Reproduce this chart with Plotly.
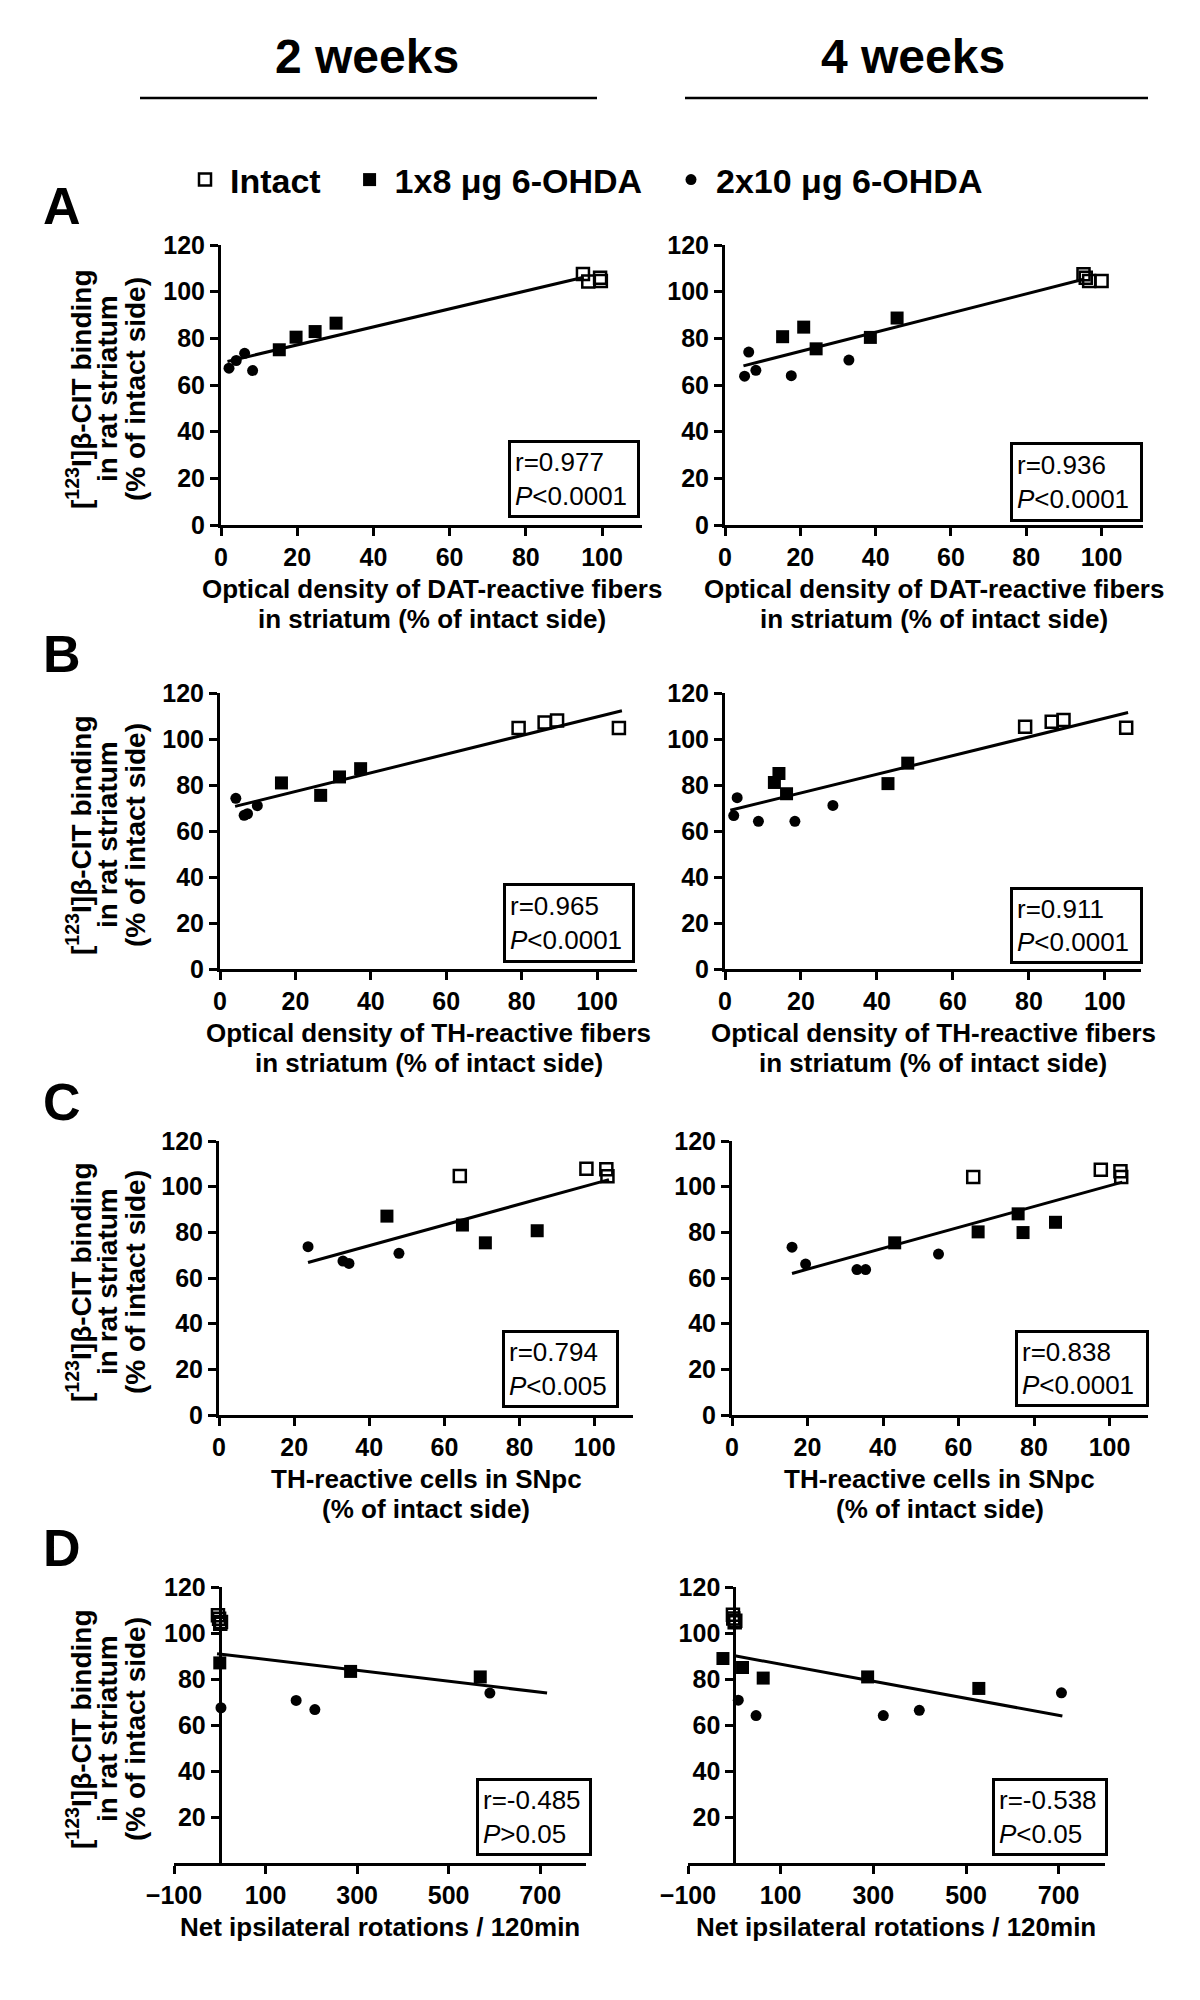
import plotly.graph_objects as go

W, H = 1200, 2000
OFF = 8  # the page body adds an 8px margin; compensate so the figure lands where intended
FONT = "Liberation Sans"

# ---------------- data ----------------
series_names = ["Intact", "1x8 μg 6-OHDA", "2x10 μg 6-OHDA"]

# A, 2 weeks : DAT fibers
a2_intact_x = [95.0, 96.4, 99.7, 99.5]
a2_intact_y = [107.6, 104.4, 104.6, 106.0]
a2_one8_x = [15.3, 19.7, 24.7, 30.2]
a2_one8_y = [75.1, 80.5, 82.9, 86.5]
a2_two10_x = [2.1, 4.0, 6.2, 8.3]
a2_two10_y = [67.2, 70.5, 73.6, 66.2]
a2_fit_x = [1.7, 95.2]
a2_fit_y = [70.1, 106.2]

# A, 4 weeks
a4_intact_x = [95.2, 96.7, 100.0, 95.8]
a4_intact_y = [107.5, 104.6, 104.6, 106.0]
a4_one8_x = [15.3, 20.9, 24.2, 38.6, 45.7]
a4_one8_y = [80.7, 84.8, 75.5, 80.4, 88.7]
a4_two10_x = [5.2, 6.3, 8.2, 17.6, 32.9]
a4_two10_y = [63.8, 74.1, 66.3, 64.0, 70.7]
a4_fit_x = [4.9, 95.2]
a4_fit_y = [68.2, 105.3]

# B, 2 weeks : TH fibers
b2_intact_x = [79.2, 86.1, 89.4, 105.8]
b2_intact_y = [104.8, 107.2, 108.0, 104.8]
b2_one8_x = [16.3, 26.7, 31.7, 37.3]
b2_one8_y = [80.9, 75.5, 83.5, 87.1]
b2_two10_x = [4.2, 6.4, 7.3, 9.9]
b2_two10_y = [74.2, 66.8, 67.5, 71.0]
b2_fit_x = [4.0, 106.6]
b2_fit_y = [70.7, 112.3]

# B, 4 weeks
b4_intact_x = [79.0, 86.0, 89.1, 105.6]
b4_intact_y = [105.3, 107.5, 108.3, 104.9]
b4_one8_x = [13.0, 14.2, 16.2, 42.9, 48.1]
b4_one8_y = [81.1, 85.0, 76.2, 80.6, 89.5]
b4_two10_x = [2.3, 3.2, 8.8, 18.4, 28.4]
b4_two10_y = [66.7, 74.5, 64.2, 64.2, 71.1]
b4_fit_x = [1.4, 106.1]
b4_fit_y = [69.0, 111.5]

# C, 2 weeks : TH cells in SNpc
c2_intact_x = [64.1, 97.8, 103.1, 103.4]
c2_intact_y = [104.7, 107.9, 107.6, 104.6]
c2_one8_x = [44.7, 64.8, 70.9, 84.7]
c2_one8_y = [87.1, 83.2, 75.4, 80.7]
c2_two10_x = [23.7, 33.0, 34.6, 47.9]
c2_two10_y = [73.7, 67.4, 66.4, 70.8]
c2_fit_x = [23.7, 103.8]
c2_fit_y = [66.8, 103.1]

# C, 4 weeks
c4_intact_x = [63.9, 97.7, 102.9, 103.1]
c4_intact_y = [104.2, 107.4, 106.8, 104.2]
c4_one8_x = [43.1, 65.2, 75.8, 77.1, 85.7]
c4_one8_y = [75.4, 80.2, 88.1, 79.9, 84.4]
c4_two10_x = [15.9, 19.5, 33.1, 35.4, 54.7]
c4_two10_y = [73.5, 66.1, 63.7, 63.7, 70.5]
c4_fit_x = [15.9, 103.4]
c4_fit_y = [62.0, 102.0]

# D, 2 weeks : rotations
d2_intact_x = [-4.0, -1.5, 2.6, 1.0]
d2_intact_y = [107.7, 106.2, 104.8, 104.0]
d2_one8_x = [0.0, 285.8, 569.0]
d2_one8_y = [87.0, 83.3, 80.9]
d2_two10_x = [2.6, 166.8, 207.7, 590.0]
d2_two10_y = [67.5, 70.7, 66.7, 73.9]
d2_fit_x = [-6.0, 715.0]
d2_fit_y = [91.0, 73.9]

# D, 4 weeks
d4_intact_x = [-3.0, -2.3, 0.8, 2.0]
d4_intact_y = [107.9, 106.3, 104.7, 105.3]
d4_one8_x = [-24.6, 17.7, 62.3, 287.7, 527.7]
d4_one8_y = [88.9, 85.0, 80.4, 80.9, 75.9]
d4_two10_x = [8.5, 46.9, 321.5, 399.2, 706.0]
d4_two10_y = [70.8, 64.1, 64.1, 66.4, 74.0]
d4_fit_x = [0.8, 708.0]
d4_fit_y = [90.1, 63.9]

r_texts = ["r=0.977", "r=0.936", "r=0.965", "r=0.911",
           "r=0.794", "r=0.838", "r=-0.485", "r=-0.538"]
p_texts = ["&lt;0.0001", "&lt;0.0001", "&lt;0.0001", "&lt;0.0001",
           "&lt;0.005", "&lt;0.0001", "&gt;0.05", "&lt;0.05"]

xtitles = [
    ["Optical density of DAT-reactive fibers", "in striatum (% of intact side)"],
    ["Optical density of TH-reactive fibers", "in striatum (% of intact side)"],
    ["TH-reactive cells in SNpc", "(% of intact side)"],
    ["Net ipsilateral rotations / 120min"],
]
ytitle_lines = ["[<sup>123</sup>I]β-CIT binding", "in rat striatum", "(% of intact side)"]
row_letters = ["A", "B", "C", "D"]
col_titles = ["2 weeks", "4 weeks"]

ticks_pct = [0, 20, 40, 60, 80, 100]
ticks_y = [0, 20, 40, 60, 80, 100, 120]
ticks_rot = [-100, 100, 300, 500, 700]
ticks_y_rot = [20, 40, 60, 80, 100, 120]

data = [
    (a2_intact_x, a2_intact_y, a2_one8_x, a2_one8_y, a2_two10_x, a2_two10_y, a2_fit_x, a2_fit_y),
    (a4_intact_x, a4_intact_y, a4_one8_x, a4_one8_y, a4_two10_x, a4_two10_y, a4_fit_x, a4_fit_y),
    (b2_intact_x, b2_intact_y, b2_one8_x, b2_one8_y, b2_two10_x, b2_two10_y, b2_fit_x, b2_fit_y),
    (b4_intact_x, b4_intact_y, b4_one8_x, b4_one8_y, b4_two10_x, b4_two10_y, b4_fit_x, b4_fit_y),
    (c2_intact_x, c2_intact_y, c2_one8_x, c2_one8_y, c2_two10_x, c2_two10_y, c2_fit_x, c2_fit_y),
    (c4_intact_x, c4_intact_y, c4_one8_x, c4_one8_y, c4_two10_x, c4_two10_y, c4_fit_x, c4_fit_y),
    (d2_intact_x, d2_intact_y, d2_one8_x, d2_one8_y, d2_two10_x, d2_two10_y, d2_fit_x, d2_fit_y),
    (d4_intact_x, d4_intact_y, d4_one8_x, d4_one8_y, d4_two10_x, d4_two10_y, d4_fit_x, d4_fit_y),
]

# ---------------- layout geometry (pixels in the final picture) ----------------
geom = [
    dict(x0=221, x1=642, top=245, bot=525, xr=[0, 110.5]),
    dict(x0=725, x1=1143, top=245, bot=525, xr=[0, 111.0]),
    dict(x0=220, x1=637, top=693, bot=969, xr=[0, 110.6]),
    dict(x0=725, x1=1141, top=693, bot=969, xr=[0, 109.5]),
    dict(x0=219, x1=633, top=1141, bot=1415, xr=[0, 110.2]),
    dict(x0=732, x1=1148, top=1141, bot=1415, xr=[0, 110.2]),
    dict(x0=174, x1=586, top=1587, bot=1863, xr=[-100, 800]),
    dict(x0=688, x1=1105, top=1587, bot=1863, xr=[-100, 800]),
]
boxes = [
    (508, 440, 640, 518), (1010, 442, 1143, 522),
    (503, 883, 635, 963), (1010, 887, 1143, 964),
    (502, 1330, 619, 1408), (1015, 1330, 1149, 1407),
    (476, 1778, 592, 1856), (992, 1778, 1108, 1856),
]


def fx(p):
    return (p - OFF) / W


def fy(p):
    return 1 - (p - OFF) / H


fig = go.Figure()
layout = dict(
    width=W, height=H, margin=dict(l=0, r=0, t=0, b=0, autoexpand=False),
    paper_bgcolor="white", plot_bgcolor="white",
    font=dict(family=FONT, color="black"),
    showlegend=True,
)

axis_common = dict(
    showline=True, linecolor="black", linewidth=3,
    ticks="outside", ticklen=8, tickwidth=3, tickcolor="black",
    showgrid=False, zeroline=False, automargin=False,
    tickfont=dict(family=FONT, size=25, color="black", weight="bold"),
)

annotations = []
shapes = []

for i, (g, d) in enumerate(zip(geom, data)):
    n = i + 1
    xa = "x" if n == 1 else f"x{n}"
    ya = "y" if n == 1 else f"y{n}"
    is_rot = i >= 6
    xaxis = dict(axis_common, domain=[fx(g["x0"]), fx(g["x1"])], range=g["xr"],
                 anchor=ya,
                 tickvals=ticks_rot if is_rot else ticks_pct)
    yaxis = dict(axis_common, domain=[fy(g["bot"]), fy(g["top"])], range=[0, 120],
                 tickvals=ticks_y_rot if is_rot else ticks_y)
    if is_rot:
        zero_px = g["x0"] + (0 - g["xr"][0]) / (g["xr"][1] - g["xr"][0]) * (g["x1"] - g["x0"])
        yaxis.update(anchor="free", position=fx(zero_px))
    else:
        yaxis.update(anchor=xa)
    layout["xaxis" if n == 1 else f"xaxis{n}"] = xaxis
    layout["yaxis" if n == 1 else f"yaxis{n}"] = yaxis

    ix, iy, sx, sy, cx, cy, lx, ly = d
    fig.add_trace(go.Scatter(x=lx, y=ly, mode="lines", xaxis=xa, yaxis=ya,
                             line=dict(color="black", width=3), showlegend=False,
                             cliponaxis=False))
    fig.add_trace(go.Scatter(x=ix, y=iy, mode="markers", xaxis=xa, yaxis=ya,
                             name=series_names[0] + "\u00a0\u00a0",
                             showlegend=(i == 0), cliponaxis=False,
                             marker=dict(symbol="square-open", size=12, color="black",
                                         line=dict(width=2.5, color="black"))))
    fig.add_trace(go.Scatter(x=sx, y=sy, mode="markers", xaxis=xa, yaxis=ya,
                             name=series_names[1] + "\u00a0\u00a0",
                             showlegend=(i == 0), cliponaxis=False,
                             marker=dict(symbol="square", size=13, color="black")))
    fig.add_trace(go.Scatter(x=cx, y=cy, mode="markers", xaxis=xa, yaxis=ya,
                             name=series_names[2], showlegend=(i == 0), cliponaxis=False,
                             marker=dict(symbol="circle", size=11, color="black")))

    # stat box
    bl, bt, br, bb = boxes[i]
    annotations.append(dict(
        xref="paper", yref="paper", x=fx(bl), y=fy(bt), xanchor="left", yanchor="top",
        text=f"{r_texts[i]}<br><i>P</i>{p_texts[i]}", showarrow=False, align="left",
        font=dict(family=FONT, size=26, color="black"),
        bordercolor="black", borderwidth=3, borderpad=4, bgcolor="white",
        width=br - bl - 14, height=bb - bt - 14, valign="middle",
    ))

    # x-axis title lines
    row = i // 2
    cxp = (g["x0"] + g["x1"]) / 2
    for k, line in enumerate(xtitles[row]):
        annotations.append(dict(
            xref="paper", yref="paper", x=fx(cxp), y=fy(g["bot"] + 64 + 30 * k),
            xanchor="center", yanchor="middle", text=line, showarrow=False,
            font=dict(family=FONT, size=26, color="black", weight="bold")))

    # y-axis title (left column only)
    if i % 2 == 0:
        cyp = (g["top"] + g["bot"]) / 2 + 4
        for k, line in enumerate(ytitle_lines):
            annotations.append(dict(
                xref="paper", yref="paper", x=fx(79 + 28 * k), y=fy(cyp),
                xanchor="center", yanchor="middle", text=line, showarrow=False,
                textangle=-90,
                font=dict(family=FONT, size=28, color="black", weight="bold")))
        # row letter
        annotations.append(dict(
            xref="paper", yref="paper", x=fx(41), y=fy(g["top"] - 39),
            xanchor="left", yanchor="middle", text=row_letters[row], showarrow=False,
            font=dict(family=FONT, size=52, color="black", weight="bold")))

# column titles + underlines
for k, (t, cxp, l0, l1) in enumerate(zip(col_titles, [367, 913], [140, 685], [597, 1148])):
    annotations.append(dict(
        xref="paper", yref="paper", x=fx(cxp), y=fy(57), xanchor="center", yanchor="middle",
        text=t, showarrow=False, font=dict(family=FONT, size=48, color="black", weight="bold")))
    shapes.append(dict(type="line", xref="paper", yref="paper",
                       x0=fx(l0), x1=fx(l1), y0=fy(98), y1=fy(98),
                       line=dict(color="black", width=2.5)))

layout["annotations"] = annotations
layout["shapes"] = shapes
layout["legend"] = dict(
    orientation="h", x=fx(180), xanchor="left", y=fy(180), yanchor="middle",
    font=dict(family=FONT, size=34, color="black", weight="bold"),
    bgcolor="rgba(0,0,0,0)", itemsizing="trace", itemwidth=40,
)

fig.update_layout(**layout)
fig.write_html("out.html")
